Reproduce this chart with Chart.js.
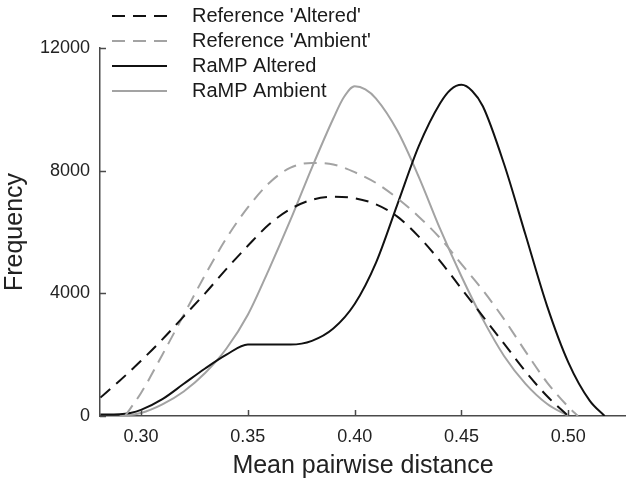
<!DOCTYPE html>
<html>
<head>
<meta charset="utf-8">
<script src="https://cdn.jsdelivr.net/npm/chart.js@4/dist/chart.umd.min.js"></script>
<style>
  html, body { margin: 0; padding: 0; background: #fff; }
  #wrap { width: 626px; height: 483px; }
</style>
</head>
<body>
<div id="wrap"><canvas id="c" width="626" height="483"></canvas></div>
<script>
// ---- data ----
const seriesLabels = ["Reference 'Altered'", "Reference 'Ambient'", "RaMP Altered", "RaMP Ambient"];

const refAlteredX = [0.281, 0.29, 0.30, 0.31, 0.32, 0.33, 0.34, 0.35, 0.36, 0.37, 0.38, 0.39, 0.40, 0.41, 0.42, 0.43, 0.44, 0.45, 0.46, 0.47, 0.48, 0.49, 0.50];
const refAlteredY = [600, 1150, 1800, 2500, 3250, 4000, 4800, 5550, 6250, 6750, 7050, 7150, 7100, 6900, 6500, 5850, 5050, 4150, 3250, 2350, 1450, 650, 0];

const refAmbientX = [0.2925, 0.30, 0.31, 0.32, 0.33, 0.34, 0.35, 0.36, 0.37, 0.38, 0.39, 0.40, 0.41, 0.42, 0.43, 0.44, 0.45, 0.46, 0.47, 0.48, 0.49, 0.50, 0.5045];
const refAmbientY = [0, 750, 2000, 3300, 4600, 5800, 6800, 7600, 8100, 8250, 8200, 7950, 7600, 7100, 6500, 5800, 4950, 4100, 3150, 2100, 1100, 300, 0];

const rampAlteredX = [0.281, 0.29, 0.295, 0.30, 0.31, 0.32, 0.33, 0.34, 0.35, 0.36, 0.37, 0.38, 0.39, 0.40, 0.41, 0.42, 0.43, 0.44, 0.445, 0.45, 0.455, 0.46, 0.47, 0.48, 0.49, 0.50, 0.51, 0.517];
const rampAlteredY = [50, 60, 100, 200, 550, 1050, 1550, 2000, 2330, 2330, 2330, 2450, 2850, 3650, 5000, 6900, 8800, 10200, 10650, 10800, 10600, 10100, 8200, 5900, 3600, 1750, 500, 0];

const rampAmbientX = [0.29, 0.30, 0.31, 0.32, 0.33, 0.34, 0.35, 0.36, 0.37, 0.38, 0.39, 0.395, 0.40, 0.405, 0.41, 0.42, 0.43, 0.44, 0.45, 0.46, 0.47, 0.48, 0.49, 0.50];
const rampAmbientY = [0, 100, 380, 800, 1400, 2200, 3300, 4800, 6400, 8100, 9700, 10400, 10750, 10650, 10350, 9300, 7800, 6100, 4550, 3150, 1950, 1050, 400, 0];

const xTicks = [0.30, 0.35, 0.40, 0.45, 0.50];
const yTicks = [0, 4000, 8000, 12000];
const xMin = 0.2808, xMax = 0.527;
const yMin = 0, yMax = 12000;

// ---- build ----
const pts = (xs, ys) => xs.map((x, i) => ({ x: x, y: ys[i] }));
const FONT = "'Liberation Sans', Arial, Helvetica, sans-serif";
const BLACK = '#111111', GREY = '#a3a3a3';

const datasets = [
  { label: seriesLabels[0], data: pts(refAlteredX, refAlteredY), borderColor: BLACK, borderDash: [13, 8] },
  { label: seriesLabels[1], data: pts(refAmbientX, refAmbientY), borderColor: GREY, borderDash: [13, 8] },
  { label: seriesLabels[2], data: pts(rampAlteredX, rampAlteredY), borderColor: BLACK, borderDash: [] },
  { label: seriesLabels[3], data: pts(rampAmbientX, rampAmbientY), borderColor: GREY, borderDash: [] }
].map(d => Object.assign(d, {
  borderWidth: 2, pointRadius: 0, fill: false, tension: 0.4, cubicInterpolationMode: 'monotone'
}));

const decor = {
  id: 'decor',
  afterDatasetsDraw(chart) {
    const { ctx, scales: { x, y }, chartArea: a } = chart;
    ctx.save();
    ctx.strokeStyle = '#4a4a4a';
    ctx.lineWidth = 1.5;
    xTicks.forEach(v => {
      const px = Math.round(x.getPixelForValue(v)) + 0.5;
      ctx.beginPath(); ctx.moveTo(px, a.bottom); ctx.lineTo(px, a.bottom - 6); ctx.stroke();
    });
    yTicks.forEach(v => {
      const py = Math.round(y.getPixelForValue(v)) + 0.5;
      ctx.beginPath(); ctx.moveTo(a.left, py); ctx.lineTo(a.left + 6, py); ctx.stroke();
    });
    // legend
    ctx.font = '20px ' + FONT;
    ctx.textBaseline = 'middle';
    ctx.fillStyle = '#1a1a1a';
    chart.data.datasets.forEach((d, i) => {
      const ly = 16 + 25 * i;
      ctx.beginPath();
      ctx.setLineDash(d.borderDash);
      ctx.strokeStyle = d.borderColor;
      ctx.lineWidth = 2;
      ctx.moveTo(112, ly); ctx.lineTo(167, ly); ctx.stroke();
      ctx.setLineDash([]);
      ctx.fillText(d.label, 192, ly);
    });
    ctx.restore();
  }
};

new Chart(document.getElementById('c'), {
  type: 'line',
  data: { datasets },
  plugins: [decor],
  options: {
    responsive: false,
    animation: false,
    layout: { padding: { top: 48, right: 0, left: 0, bottom: 0 } },
    plugins: { legend: { display: false }, tooltip: { enabled: false } },
    scales: {
      x: {
        type: 'linear', min: xMin, max: xMax,
        afterBuildTicks: s => { s.ticks = xTicks.map(v => ({ value: v })); },
        afterFit: s => { s.height = 67; },
        grid: { drawOnChartArea: false, drawTicks: false },
        border: { display: true, color: '#4a4a4a', width: 1.5 },
        ticks: { padding: 10, color: '#222', font: { family: FONT, size: 18 }, callback: v => Number(v).toFixed(2), maxRotation: 0 },
        title: { display: true, text: 'Mean pairwise distance', color: '#222', font: { family: FONT, size: 25 }, padding: { top: 0, bottom: 2 } }
      },
      y: {
        type: 'linear', min: yMin, max: yMax,
        afterBuildTicks: s => { s.ticks = yTicks.map(v => ({ value: v })); },
        afterFit: s => { s.width = 100; },
        grid: { drawOnChartArea: false, drawTicks: false },
        border: { display: true, color: '#4a4a4a', width: 1.5 },
        ticks: { padding: 10, color: '#222', font: { family: FONT, size: 18 }, callback: v => String(v) },
        title: { display: true, text: 'Frequency', color: '#222', font: { family: FONT, size: 25 }, padding: { top: 0, bottom: 0 } }
      }
    }
  }
});
</script>
</body>
</html>
